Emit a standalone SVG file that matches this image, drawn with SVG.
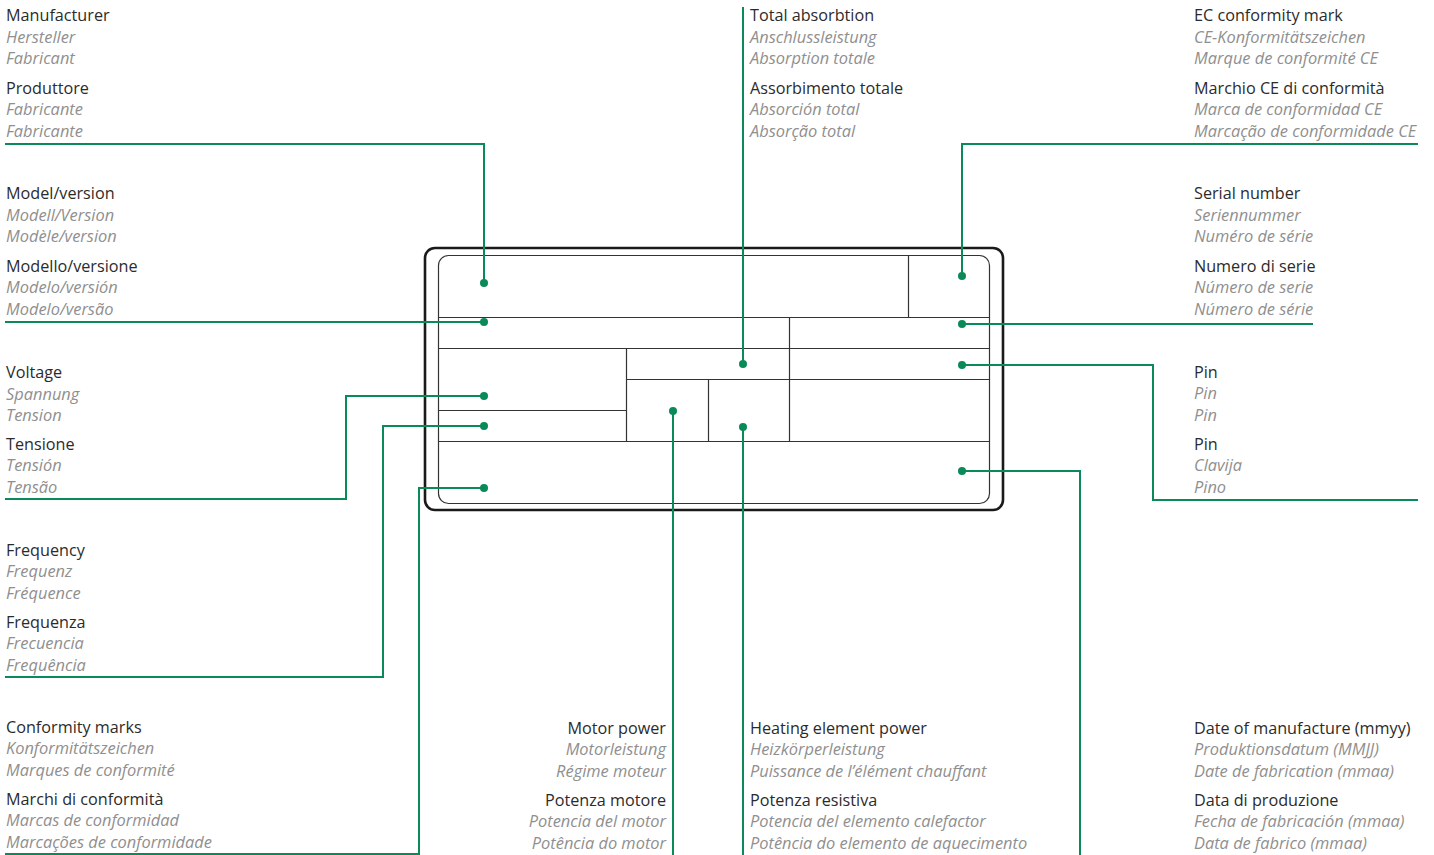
<svg xmlns="http://www.w3.org/2000/svg" width="1434" height="855" viewBox="0 0 1434 855">
<style>
.t{font-family:"Open Sans","Liberation Sans",sans-serif;font-size:16.2px;fill:#2b2b2b}
.i{font-family:"Open Sans","Liberation Sans",sans-serif;font-size:16.4px;font-style:italic;fill:#8f8f8f}
.r{text-anchor:end}
.c{fill:none;stroke:#0a8a58;stroke-width:2}
.d{fill:#0a8a58}
.p{fill:none;stroke:#333;stroke-width:1.2}
</style>
<rect width="1434" height="855" fill="#fff"/>
<g id="plate">
<rect x="425" y="248" width="578" height="262" rx="10" fill="#fff" stroke="#1a1a1a" stroke-width="2.6"/>
<rect x="438.5" y="255.5" width="551" height="248" rx="10" class="p"/>
<path class="p" d="M438.5 317.5H989.5M908.5 255.5V317.5M438.5 348.5H989.5M789.5 317.5V441.5M626.5 348.5V441.5M626.5 379.5H989.5M708.5 379.5V441.5M438.5 410.5H626.5M438.5 441.5H989.5"/>
</g>
<g id="connectors">
<path class="c" d="M5 144H484V283"/>
<path class="c" d="M5 322H484"/>
<path class="c" d="M743 7V364"/>
<path class="c" d="M1418 144H962V276"/>
<path class="c" d="M962 324H1313"/>
<path class="c" d="M962 365H1153V500H1418"/>
<path class="c" d="M962 471H1080V855"/>
<path class="c" d="M484 396H346V499H5"/>
<path class="c" d="M484 426H383V677H5"/>
<path class="c" d="M484 488H419V854H5"/>
<path class="c" d="M673 411V855"/>
<path class="c" d="M743 427V855"/>
<circle class="d" cx="484" cy="283" r="4"/>
<circle class="d" cx="484" cy="322" r="4"/>
<circle class="d" cx="743" cy="364" r="4"/>
<circle class="d" cx="962" cy="276" r="4"/>
<circle class="d" cx="962" cy="324" r="4"/>
<circle class="d" cx="962" cy="365" r="4"/>
<circle class="d" cx="962" cy="471" r="4"/>
<circle class="d" cx="484" cy="396" r="4"/>
<circle class="d" cx="484" cy="426" r="4"/>
<circle class="d" cx="484" cy="488" r="4"/>
<circle class="d" cx="673" cy="411" r="4"/>
<circle class="d" cx="743" cy="427" r="4"/>
</g>
<g id="manufacturer">
<text class="t" x="6" y="21">Manufacturer</text>
<text class="i" x="6" y="43">Hersteller</text>
<text class="i" x="6" y="64">Fabricant</text>
<text class="t" x="6" y="94">Produttore</text>
<text class="i" x="6" y="115">Fabricante</text>
<text class="i" x="6" y="137">Fabricante</text>
</g>
<g id="model">
<text class="t" x="6" y="199">Model/version</text>
<text class="i" x="6" y="221">Modell/Version</text>
<text class="i" x="6" y="242">Modèle/version</text>
<text class="t" x="6" y="272">Modello/versione</text>
<text class="i" x="6" y="293">Modelo/versión</text>
<text class="i" x="6" y="315">Modelo/versão</text>
</g>
<g id="voltage">
<text class="t" x="6" y="378">Voltage</text>
<text class="i" x="6" y="400">Spannung</text>
<text class="i" x="6" y="421">Tension</text>
<text class="t" x="6" y="450">Tensione</text>
<text class="i" x="6" y="471">Tensión</text>
<text class="i" x="6" y="493">Tensão</text>
</g>
<g id="frequency">
<text class="t" x="6" y="556">Frequency</text>
<text class="i" x="6" y="577">Frequenz</text>
<text class="i" x="6" y="599">Fréquence</text>
<text class="t" x="6" y="628">Frequenza</text>
<text class="i" x="6" y="649">Frecuencia</text>
<text class="i" x="6" y="671">Frequência</text>
</g>
<g id="conformity">
<text class="t" x="6" y="733">Conformity marks</text>
<text class="i" x="6" y="754">Konformitätszeichen</text>
<text class="i" x="6" y="776">Marques de conformité</text>
<text class="t" x="6" y="805">Marchi di conformità</text>
<text class="i" x="6" y="826">Marcas de conformidad</text>
<text class="i" x="6" y="848">Marcações de conformidade</text>
</g>
<g id="absorption">
<text class="t" x="750" y="21">Total absorbtion</text>
<text class="i" x="750" y="43">Anschlussleistung</text>
<text class="i" x="750" y="64">Absorption totale</text>
<text class="t" x="750" y="94">Assorbimento totale</text>
<text class="i" x="750" y="115">Absorción total</text>
<text class="i" x="750" y="137">Absorção total</text>
</g>
<g id="ec-mark">
<text class="t" x="1194" y="21">EC conformity mark</text>
<text class="i" x="1194" y="43">CE-Konformitätszeichen</text>
<text class="i" x="1194" y="64">Marque de conformité CE</text>
<text class="t" x="1194" y="94">Marchio CE di conformità</text>
<text class="i" x="1194" y="115">Marca de conformidad CE</text>
<text class="i" x="1194" y="137">Marcação de conformidade CE</text>
</g>
<g id="serial">
<text class="t" x="1194" y="199">Serial number</text>
<text class="i" x="1194" y="221">Seriennummer</text>
<text class="i" x="1194" y="242">Numéro de série</text>
<text class="t" x="1194" y="272">Numero di serie</text>
<text class="i" x="1194" y="293">Número de serie</text>
<text class="i" x="1194" y="315">Número de série</text>
</g>
<g id="pin">
<text class="t" x="1194" y="378">Pin</text>
<text class="i" x="1194" y="399">Pin</text>
<text class="i" x="1194" y="421">Pin</text>
<text class="t" x="1194" y="450">Pin</text>
<text class="i" x="1194" y="471">Clavija</text>
<text class="i" x="1194" y="493">Pino</text>
</g>
<g id="motor">
<text class="t r" x="666" y="734">Motor power</text>
<text class="i r" x="666" y="755">Motorleistung</text>
<text class="i r" x="666" y="777">Régime moteur</text>
<text class="t r" x="666" y="806">Potenza motore</text>
<text class="i r" x="666" y="827">Potencia del motor</text>
<text class="i r" x="666" y="849">Potência do motor</text>
</g>
<g id="heating">
<text class="t" x="750" y="734">Heating element power</text>
<text class="i" x="750" y="755">Heizkörperleistung</text>
<text class="i" x="750" y="777">Puissance de l’élément chauffant</text>
<text class="t" x="750" y="806">Potenza resistiva</text>
<text class="i" x="750" y="827">Potencia del elemento calefactor</text>
<text class="i" x="750" y="849">Potência do elemento de aquecimento</text>
</g>
<g id="date">
<text class="t" x="1194" y="734">Date of manufacture (mmyy)</text>
<text class="i" x="1194" y="755">Produktionsdatum (MMJJ)</text>
<text class="i" x="1194" y="777">Date de fabrication (mmaa)</text>
<text class="t" x="1194" y="806">Data di produzione</text>
<text class="i" x="1194" y="827">Fecha de fabricación (mmaa)</text>
<text class="i" x="1194" y="849">Data de fabrico (mmaa)</text>
</g>
</svg>
